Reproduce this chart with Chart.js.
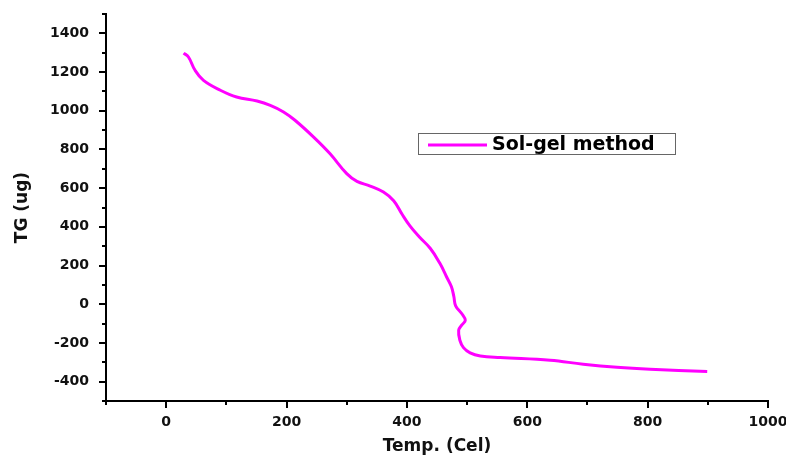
<!DOCTYPE html>
<html>
<head>
<meta charset="utf-8">
<script src="https://cdn.jsdelivr.net/npm/chart.js@4"></script>
<style>
  html, body { margin: 0; padding: 0; background: #fff; }
  #wrap { width: 786px; height: 457px; position: relative; }
</style>
</head>
<body>
<div id="wrap"><canvas id="tg"></canvas></div>
<script>
/* ── data ─────────────────────────────────────────── */
var tempCel = [29, 37, 48, 62, 90, 117, 151, 173, 195, 214, 245, 272, 300, 317, 339, 361, 378, 392, 405, 420, 439,
               455, 466, 474, 478, 481, 491, 497, 491, 486, 488, 494, 505, 522, 555, 638, 693, 749, 804, 899];
var tgUg    = [1298, 1278, 1209, 1157, 1106, 1071, 1050, 1028, 994, 951, 864, 779, 675, 635, 611, 580, 535, 465, 405, 350, 288,
               210, 141, 90, 40, -8, -48, -83, -108, -134, -186, -224, -251, -267, -275, -289, -310, -326, -336, -347];
var seriesName = 'Sol-gel method';
var xLabels = [0, 200, 400, 600, 800, 1000];
var yLabels = [-400, -200, 0, 200, 400, 600, 800, 1000, 1200, 1400];

var points = tempCel.map(function(t, i) { return { x: t, y: tgUg[i] }; });
var boldFont = 'DejaVu Sans';

/* ── tick marks, major + minor, outside the axes ─── */
var tickMarks = {
  id: 'tickMarks',
  afterDraw: function(chart) {
    var ctx = chart.ctx, xs = chart.scales.x, ys = chart.scales.y;
    ctx.save();
    ctx.strokeStyle = '#000';
    ctx.lineWidth = 2;
    ys.ticks.forEach(function(t) {
      var py = Math.round(ys.getPixelForValue(t.value));
      var len = yLabels.indexOf(t.value) >= 0 ? 7 : 4;
      ctx.beginPath(); ctx.moveTo(xs.left - len, py); ctx.lineTo(xs.left, py); ctx.stroke();
    });
    xs.ticks.forEach(function(t) {
      var px = Math.round(xs.getPixelForValue(t.value));
      var len = xLabels.indexOf(t.value) >= 0 ? 7 : 4;
      ctx.beginPath(); ctx.moveTo(px, ys.bottom); ctx.lineTo(px, ys.bottom + len); ctx.stroke();
    });
    ctx.restore();
  }
};

/* ── boxed legend inside the plot ─────────────────── */
var boxLegend = {
  id: 'boxLegend',
  afterDraw: function(chart) {
    var ctx = chart.ctx;
    ctx.save();
    ctx.strokeStyle = '#666';
    ctx.lineWidth = 1;
    ctx.strokeRect(418.5, 133.5, 257, 21);
    ctx.strokeStyle = '#ff00ff';
    ctx.lineWidth = 3;
    ctx.beginPath(); ctx.moveTo(428, 145); ctx.lineTo(487, 145); ctx.stroke();
    ctx.fillStyle = '#000';
    ctx.font = 'bold 19px ' + boldFont;
    ctx.textBaseline = 'middle';
    ctx.fillText(seriesName, 492, 145);
    ctx.restore();
  }
};

new Chart(document.getElementById('tg'), {
  type: 'scatter',
  data: {
    datasets: [{
      label: seriesName,
      data: points,
      showLine: true,
      borderColor: '#ff00ff',
      backgroundColor: '#ff00ff',
      borderWidth: 3,
      pointRadius: 0,
      tension: 0.4,
    }],
  },
  options: {
    responsive: true,
    maintainAspectRatio: false,
    animation: false,
    layout: { padding: { top: 14, right: 18, left: 0, bottom: 0 } },
    plugins: { legend: { display: false }, tooltip: { enabled: false } },
    scales: {
      x: {
        type: 'linear',
        min: -100, max: 1000,
        grid: { display: false, drawTicks: false },
        border: { display: true, color: '#000', width: 2 },
        ticks: {
          stepSize: 100, autoSkip: false, maxRotation: 0, padding: 13, color: '#111',
          font: { family: boldFont, size: 14, weight: 'bold' },
          callback: function(v) { return xLabels.indexOf(v) >= 0 ? String(v) : ''; },
        },
        title: {
          display: true, text: 'Temp. (Cel)', color: '#111',
          font: { family: boldFont, size: 17, weight: 'bold' },
          padding: { top: 0, bottom: 0 },
        },
        afterFit: function(s) { s.height = 56; s.paddingLeft = 0; s.paddingRight = 0; },
      },
      y: {
        min: -500, max: 1500,
        grid: { display: false, drawTicks: false },
        border: { display: true, color: '#000', width: 2 },
        ticks: {
          stepSize: 100, autoSkip: false, padding: 17, color: '#111',
          font: { family: boldFont, size: 14, weight: 'bold' },
          callback: function(v) { return yLabels.indexOf(v) >= 0 ? String(v) : ''; },
        },
        title: {
          display: true, text: 'TG (ug)', color: '#111',
          font: { family: boldFont, size: 17, weight: 'bold' },
          padding: { top: 12, bottom: 0 },
        },
        afterFit: function(s) { s.width = 106; s.paddingTop = 0; s.paddingBottom = 0; },
      },
    },
  },
  plugins: [tickMarks, boxLegend],
});
</script>
</body>
</html>
